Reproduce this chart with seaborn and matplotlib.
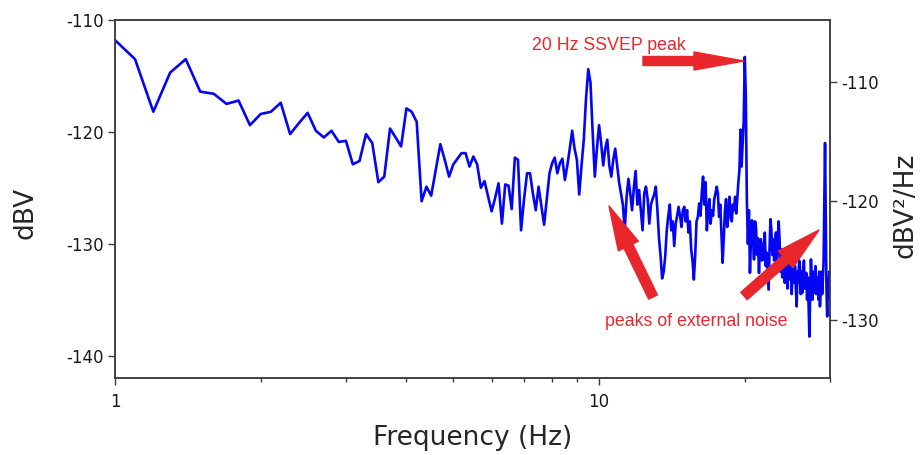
import matplotlib
matplotlib.use("Agg")
import matplotlib.pyplot as plt
import seaborn as sns
import pandas as pd
from matplotlib.patches import FancyArrowPatch, ArrowStyle
from matplotlib.transforms import IdentityTransform
from matplotlib.ticker import FixedLocator, NullFormatter

# ---------------- data ----------------
freq_hz = [
    1.0, 1.1, 1.2, 1.3, 1.4, 1.5, 1.6, 1.7, 1.8, 1.9,
    2.0, 2.1, 2.2, 2.3, 2.4, 2.5, 2.6, 2.7, 2.8, 2.9,
    3.0, 3.1, 3.2, 3.3, 3.4, 3.5, 3.6, 3.7, 3.8, 3.9,
    4.0, 4.1, 4.2, 4.3, 4.4, 4.5, 4.6, 4.7, 4.8, 4.9,
    5.0, 5.1, 5.2, 5.3, 5.4, 5.5, 5.6, 5.7, 5.8, 5.9,
    6.0, 6.1, 6.2, 6.3, 6.4, 6.5, 6.6, 6.7, 6.8, 6.9,
    7.0, 7.1, 7.2, 7.3, 7.4, 7.5, 7.6, 7.7, 7.8, 7.9,
    8.0, 8.1, 8.2, 8.3, 8.4, 8.5, 8.6, 8.7, 8.8, 8.9,
    9.0, 9.1, 9.2, 9.3, 9.4, 9.5, 9.6, 9.7, 9.8, 9.9,
    10.0, 10.1, 10.2, 10.3, 10.4, 10.5, 10.6, 10.7, 10.8, 10.9,
    11.0, 11.1, 11.2, 11.3, 11.4, 11.5, 11.6, 11.7, 11.8, 11.9,
    12.0, 12.1, 12.2, 12.3, 12.4, 12.5, 12.6, 12.7, 12.8, 12.9,
    13.0, 13.1, 13.2, 13.3, 13.4, 13.5, 13.6, 13.7, 13.8, 13.9,
    14.0, 14.1, 14.2, 14.3, 14.4, 14.5, 14.6, 14.7, 14.8, 14.9,
    15.0, 15.1, 15.2, 15.3, 15.4, 15.5, 15.6, 15.7, 15.8, 15.9,
    16.0, 16.1, 16.2, 16.3, 16.4, 16.5, 16.6, 16.7, 16.8, 16.9,
    17.0, 17.1, 17.2, 17.3, 17.4, 17.5, 17.6, 17.7, 17.8, 17.9,
    18.0, 18.1, 18.2, 18.3, 18.4, 18.5, 18.6, 18.7, 18.8, 18.9,
    19.0, 19.1, 19.2, 19.3, 19.4, 19.5, 19.6, 19.7, 19.8, 19.9,
    20.0, 20.1, 20.2, 20.3, 20.4, 20.5, 20.6, 20.7, 20.8, 20.9,
    21.0, 21.1, 21.2, 21.3, 21.4, 21.5, 21.6, 21.7, 21.8, 21.9,
    22.0, 22.1, 22.2, 22.3, 22.4, 22.5, 22.6, 22.7, 22.8, 22.9,
    23.0, 23.1, 23.2, 23.3, 23.4, 23.5, 23.6, 23.7, 23.8, 23.9,
    24.0, 24.1, 24.2, 24.3, 24.4, 24.5, 24.6, 24.7, 24.8, 24.9,
    25.0, 25.1, 25.2, 25.3, 25.4, 25.5, 25.6, 25.7, 25.8, 25.9,
    26.0, 26.1, 26.2, 26.3, 26.4, 26.5, 26.6, 26.7, 26.8, 26.9,
    27.0, 27.1, 27.2, 27.3, 27.4, 27.5, 27.6, 27.7, 27.8, 27.9,
    28.0, 28.1, 28.2, 28.3, 28.4, 28.5, 28.6, 28.7, 28.8, 28.9,
    29.0, 29.1, 29.2, 29.3, 29.4, 29.5, 29.6, 29.7, 29.8, 29.9,
    30.0,
]

level_dbv = [
    -111.8, -113.5, -118.2, -114.7, -113.5, -116.4, -116.6, -117.5, -117.2, -119.4,
    -118.4, -118.2, -117.4, -120.2, -119.2, -118.3, -119.9, -120.5, -119.9, -120.9,
    -120.8, -122.9, -122.6, -120.2, -121.0, -124.5, -124.0, -119.7, -120.5, -121.3,
    -117.9, -118.2, -119.1, -126.2, -124.9, -125.7, -123.4, -121.1, -122.5, -124.0,
    -122.9, -122.4, -121.9, -121.9, -123.1, -122.2, -122.9, -125.0, -124.4, -125.8,
    -127.1, -125.9, -124.6, -128.2, -124.7, -124.8, -126.9, -122.3, -122.5, -128.8,
    -126.0, -123.7, -123.7, -125.5, -127.0, -124.9, -126.6, -128.3, -126.0, -123.7,
    -122.8, -122.3, -123.7, -122.8, -122.4, -124.3, -123.0, -121.5, -119.9, -121.5,
    -122.5, -125.6, -123.0, -120.7, -117.0, -114.4, -115.6, -120.0, -124.0, -121.5,
    -119.4, -121.0, -123.0, -121.5, -120.7, -123.0, -124.0, -122.5, -121.5, -123.0,
    -124.5, -125.5, -126.5, -128.8, -125.8, -124.2, -125.5, -127.0, -125.0, -123.5,
    -126.5, -125.2, -127.0, -128.8, -125.5, -124.9, -126.0, -128.2, -126.5, -126.0,
    -125.6, -124.9, -127.0, -129.5, -131.1, -133.1, -132.5, -131.1, -128.8, -127.5,
    -126.5, -128.8, -128.0, -130.2, -128.2, -127.5, -126.7, -127.5, -128.5, -127.0,
    -126.7, -128.0, -127.0, -129.0, -128.0, -130.5, -131.5, -133.2, -131.0, -128.0,
    -127.6, -126.4, -127.5, -125.5, -124.0, -126.5, -124.5, -128.8, -127.0, -126.0,
    -128.2, -127.0, -127.5, -126.0, -125.5, -124.9, -125.5, -127.6, -126.5, -129.0,
    -131.7, -129.5, -127.0, -126.0, -128.5, -127.5, -125.8, -127.5, -128.0, -126.5,
    -127.0, -125.8, -127.3, -126.0, -124.5, -123.4, -119.8, -123.1, -121.0, -119.0,
    -113.3, -116.8, -126.1, -130.0, -127.0, -132.6, -129.5, -127.9, -129.5, -131.4,
    -128.0, -128.5, -131.0, -129.5, -132.6, -130.0, -129.6, -131.5, -130.0, -131.4,
    -129.0, -132.0, -130.8, -132.5, -134.1, -130.5, -127.8, -128.8, -131.0, -129.6,
    -131.5, -130.0, -129.0, -132.0, -129.5, -128.0, -129.6, -132.5, -130.5, -133.0,
    -132.0, -130.5, -133.5, -131.0, -131.4, -134.0, -131.5, -130.5, -133.2, -132.0,
    -134.5, -132.5, -131.1, -133.5, -132.0, -134.0, -135.6, -132.5, -133.5, -131.5,
    -132.0, -134.5, -132.5, -134.4, -133.0, -131.5, -134.0, -133.5, -132.6, -135.0,
    -133.0, -135.5, -138.3, -134.5, -131.4, -133.0, -135.0, -132.5, -133.5, -134.4,
    -132.0, -134.5, -133.0, -133.2, -135.0, -132.5, -135.6, -134.0, -132.5, -134.5,
    -133.2, -131.5, -126.0, -121.0, -128.0, -134.0, -136.5, -133.0, -135.0, -132.5,
    -133.2,
]

x_major_ticks = [1, 10]
x_major_labels = ["1", "10"]
x_minor_ticks = [2, 3, 4, 5, 6, 7, 8, 9, 20, 30]
left_ticks = [-110, -120, -130, -140]
right_ticks = [-110, -120, -130]

label_x = "Frequency (Hz)"
label_left = "dBV"
label_right = "dBV²/Hz"
note_ssvep = "20 Hz SSVEP peak"
note_noise = "peaks of external noise"

# ---------------- style ----------------
sns.set_style("ticks")
plt.rcParams["font.family"] = ["DejaVu Sans"]
edge = "#3c3c3c"
plt.rcParams.update({
    "axes.edgecolor": edge,
    "axes.linewidth": 1.1,
    "axes.unicode_minus": False,
    "xtick.color": edge,
    "ytick.color": edge,
    "xtick.labelcolor": "#1a1a1a",
    "ytick.labelcolor": "#1a1a1a",
})

line_blue = "#0505f5"
red = "#e8262c"

fig = plt.figure(figsize=(9.21, 4.55), dpi=100)
fig.patch.set_facecolor("white")
ax = fig.add_axes([115 / 921, 77 / 455, 715 / 921, 358 / 455])

df = pd.DataFrame({"freq": freq_hz, "level": level_dbv})
sns.lineplot(data=df, x="freq", y="level", ax=ax, color=line_blue,
             linewidth=1.9, sort=True, legend=False)

ax.set_xscale("log")
ax.set_xlim(1, 30)
ax.set_ylim(-142, -110)
ax.set_xticks(x_major_ticks, labels=x_major_labels)
ax.xaxis.set_minor_locator(FixedLocator(x_minor_ticks))
ax.xaxis.set_minor_formatter(NullFormatter())
ax.set_yticks(left_ticks)
ax.yaxis.set_minor_locator(FixedLocator([]))

ax.tick_params(axis="x", which="major", direction="out", length=5, width=1.0,
               labelsize=12, pad=6, top=False)
ax.tick_params(axis="x", which="minor", direction="out", length=3, width=1.0,
               top=False)
ax.tick_params(axis="y", which="major", direction="out", length=5, width=1.0,
               labelsize=12, pad=3, right=False)
for s in ax.spines.values():
    s.set_visible(True)
    s.set_color(edge)

ax.set_xlabel(label_x, fontsize=19, va="center")
ax.xaxis.set_label_coords(0.5, -0.168)
ax.set_ylabel(label_left, fontsize=19, va="center")
ax.yaxis.set_label_coords(-0.1245, 0.46)

ax2 = ax.twinx()
ax2.set_ylim(-134.9, -104.8)
ax2.set_yticks(right_ticks)
ax2.tick_params(axis="y", which="major", direction="out", length=5, width=1.0,
                labelsize=12, pad=3)
ax2.set_ylabel(label_right, fontsize=19, va="center", rotation=90)
ax2.yaxis.set_label_coords(1.105, 0.483)
for s in ax2.spines.values():
    s.set_color(edge)

# ---------------- annotations (figure pixel coordinates) ----------------
note_font = ["Liberation Sans"]
fig.text(532 / 921, (455 - 50) / 455, note_ssvep, color=red, fontsize=12.8,
         family=note_font, ha="left", va="baseline")
fig.text(605 / 921, (455 - 326) / 455, note_noise, color=red, fontsize=12.8,
         family=note_font, ha="left", va="baseline")

ident = IdentityTransform()
arrows = [
    ((643, 455 - 61), (744, 455 - 61), ArrowStyle.Simple(head_length=36, head_width=13, tail_width=6.5)),
    ((653, 455 - 297), (609, 455 - 206), ArrowStyle.Simple(head_length=32, head_width=16, tail_width=7)),
    ((744, 455 - 296), (819, 455 - 230), ArrowStyle.Simple(head_length=32, head_width=16, tail_width=7)),
]
for a, b, st in arrows:
    p = FancyArrowPatch(a, b, arrowstyle=st, mutation_scale=1, color=red,
                        shrinkA=0, shrinkB=0, transform=ident, zorder=5)
    fig.add_artist(p)

fig.savefig("out.png", dpi=100, facecolor="white")
